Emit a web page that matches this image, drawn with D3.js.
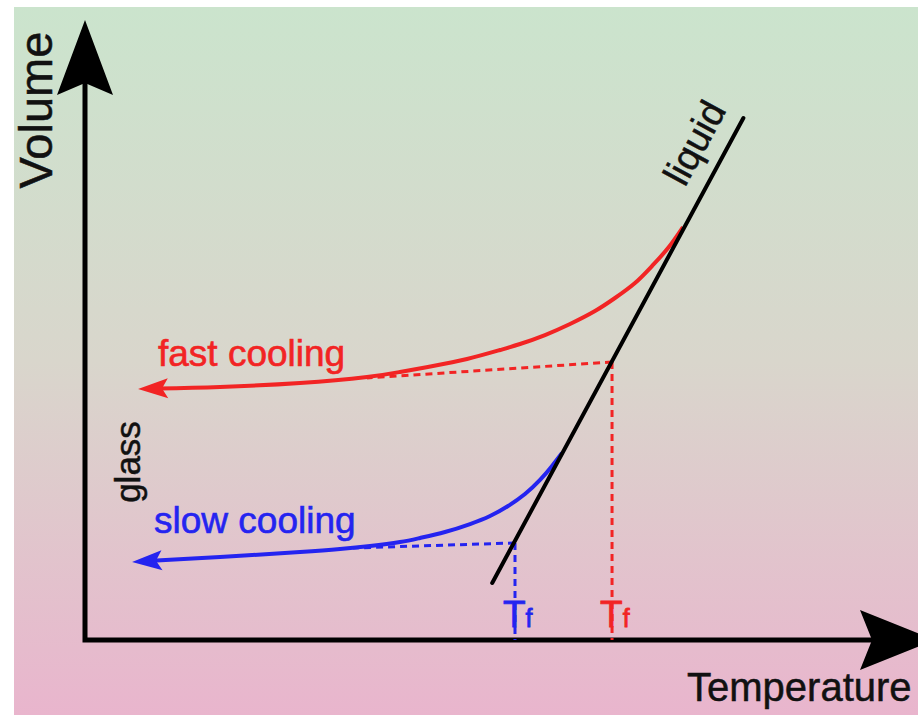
<!DOCTYPE html>
<html><head><meta charset="utf-8">
<script src="https://cdn.jsdelivr.net/npm/d3@7"></script>
<style>html,body{margin:0;padding:0;background:#fff;overflow:hidden}</style>
</head><body><svg id="c" width="918" height="715"></svg>
<script>
// ---- data (temperature t, volume v in arbitrary units) ----
const axisLabels = {x: "Temperature", y: "Volume"};
const liquidLine = [{t:50.9, v:9.5}, {t:82.3, v:87.0}];
// fast cooling curve
const fastT = [74.75,72.88,70.88,68.75,66.25,63.75,60.63,57.5,54.38,51.88,47.75,43.5,39.38,35.25,26.88,16.88,6.63];
const fastV = [68.83,65.33,62.33,59.5,57.0,54.83,52.67,50.83,49.33,48.33,46.83,45.67,44.67,43.83,42.83,42.17,41.83];
// slow cooling curve
const slowT = [59.63,58.38,56.88,55.0,52.88,50.63,48.13,45.0,41.88,39.38,35.63,31.88,26.88,16.88,5.88];
const slowV = [31.17,29.0,26.67,24.33,22.33,20.67,19.33,18.0,17.0,16.33,15.67,15.17,14.67,13.83,13.0];
const fastExtrap = [{t:65.88,v:46.33},{t:35.25,v:43.67}];
const slowExtrap = [{t:53.75,v:16.17},{t:33.5,v:15.33}];
const tfFast = {t:65.88, v:46.33};
const tfSlow = {t:53.75, v:16.17};
const labels = ["fast cooling","slow cooling","glass","liquid","T","f"];

const fastCooling = fastT.map((t,i)=>({t, v:fastV[i]}));
const slowCooling = slowT.map((t,i)=>({t, v:slowV[i]}));

// ---- scales ----
const x = d3.scaleLinear().domain([0,100]).range([85,885]);
const y = d3.scaleLinear().domain([0,100]).range([640,40]);

const svg = d3.select("#c");
const defs = svg.append("defs");
const g = defs.append("linearGradient").attr("id","bg").attr("x1",0).attr("y1",0).attr("x2",0).attr("y2",1);
g.append("stop").attr("offset","0").attr("stop-color","#cbe4cd");
g.append("stop").attr("offset","0.5").attr("stop-color","#d9d6cc");
g.append("stop").attr("offset","1").attr("stop-color","#e9b5cd");
svg.append("rect").attr("x",14).attr("y",7).attr("width",904).attr("height",708).attr("fill","url(#bg)");

const line = d3.line().x(d=>x(d.t)).y(d=>y(d.v));
const curve = d3.line().x(d=>x(d.t)).y(d=>y(d.v)).curve(d3.curveNatural);

function arrowHead(tx,ty,dx,dy,len,hw,notch){
  const L=Math.hypot(dx,dy); dx/=L; dy/=L; const nx=-dy, ny=dx;
  const bx=tx-dx*len, by=ty-dy*len;
  return `M${tx},${ty}L${bx+nx*hw},${by+ny*hw}L${tx-dx*(len-notch)},${ty-dy*(len-notch)}L${bx-nx*hw},${by-ny*hw}Z`;
}

const font="Liberation Sans, Arial, sans-serif";

// ---- axes ----
const x0=x(0), y0=y(0);
const yTip=20, xTip=935;
svg.append("path").attr("d",`M${x0},${yTip+60}L${x0},${y0}L${xTip-60},${y0}`)
  .attr("fill","none").attr("stroke","#000").attr("stroke-width",5).attr("stroke-linejoin","miter");
svg.append("path").attr("d",arrowHead(x0,yTip,0,-1,75,28,12)).attr("fill","#000");
svg.append("path").attr("d",arrowHead(xTip,y0,1,0,75,30,12)).attr("fill","#000");

svg.append("text").attr("transform",`translate(52,110) rotate(-90)`).attr("text-anchor","middle")
  .attr("font-family",font).attr("font-size",47).attr("fill","#111").attr("stroke","#111").attr("stroke-width",0.5).text(axisLabels.y);
svg.append("text").attr("x",687).attr("y",701)
  .attr("font-family",font).attr("font-size",40).attr("fill","#111").attr("stroke","#111").attr("stroke-width",0.5).text(axisLabels.x);

// ---- dashed guides ----
const red="#f22424", blue="#2424f0";
svg.append("path").attr("d",line(fastExtrap)).attr("stroke",red).attr("stroke-width",3).attr("stroke-dasharray","7,5").attr("fill","none");
svg.append("path").attr("d",line([tfFast,{t:tfFast.t,v:0}])).attr("stroke",red).attr("stroke-width",3).attr("stroke-dasharray","7,5").attr("fill","none");
svg.append("path").attr("d",line(slowExtrap)).attr("stroke",blue).attr("stroke-width",3).attr("stroke-dasharray","7,5").attr("fill","none");
svg.append("path").attr("d",line([tfSlow,{t:tfSlow.t,v:0}])).attr("stroke",blue).attr("stroke-width",3).attr("stroke-dasharray","7,5").attr("fill","none");

// ---- curves ----
function drawCooling(data,color){
  const n=data.length;
  const a=data[n-1], b=data[n-2];
  const trimmed=data.slice(0,n-1).concat([{t:a.t+2.5,v:a.v+(b.v-a.v)*2.5/(b.t-a.t)}]);
  svg.append("path").attr("d",curve(trimmed)).attr("stroke",color).attr("stroke-width",4).attr("fill","none");
  svg.append("path").attr("d",arrowHead(x(a.t),y(a.v),x(a.t)-x(b.t),y(a.v)-y(b.v),30,10,6)).attr("fill",color);
}
drawCooling(fastCooling,red);
drawCooling(slowCooling,blue);

// liquid line
svg.append("path").attr("d",line(liquidLine)).attr("stroke","#000").attr("stroke-width",4).attr("stroke-linecap","round");

// ---- labels ----
svg.append("text").attr("x",158).attr("y",366).attr("font-family",font).attr("font-size",37).attr("fill",red).attr("stroke",red).attr("stroke-width",0.6).text(labels[0]);
svg.append("text").attr("x",154).attr("y",533).attr("font-family",font).attr("font-size",37).attr("fill",blue).attr("stroke",blue).attr("stroke-width",0.6).text(labels[1]);
svg.append("text").attr("transform","translate(140,462) rotate(-90)").attr("text-anchor","middle")
  .attr("font-family",font).attr("font-size",35).attr("fill","#111").attr("stroke","#111").attr("stroke-width",0.5).text(labels[2]);

const p0=[x(liquidLine[0].t),y(liquidLine[0].v)], p1=[x(liquidLine[1].t),y(liquidLine[1].v)];
const ang=Math.atan2(p1[1]-p0[1],p1[0]-p0[0])*180/Math.PI;
svg.append("text").attr("transform",`translate(706,149) rotate(${ang})`).attr("text-anchor","middle")
  .attr("font-family",font).attr("font-size",38).attr("fill","#111").attr("stroke","#111").attr("stroke-width",0.5).text(labels[3]);

function tf(pt,color){
  const t=svg.append("text").attr("x",x(pt.t)-12).attr("y",627).attr("font-family",font).attr("font-size",37)
    .attr("fill",color).attr("stroke",color).attr("stroke-width",0.8);
  t.append("tspan").text(labels[4]);
  t.append("tspan").attr("font-size",25).attr("dx",0).text(labels[5]);
}
tf(tfSlow,blue);
tf(tfFast,red);
</script></body></html>
